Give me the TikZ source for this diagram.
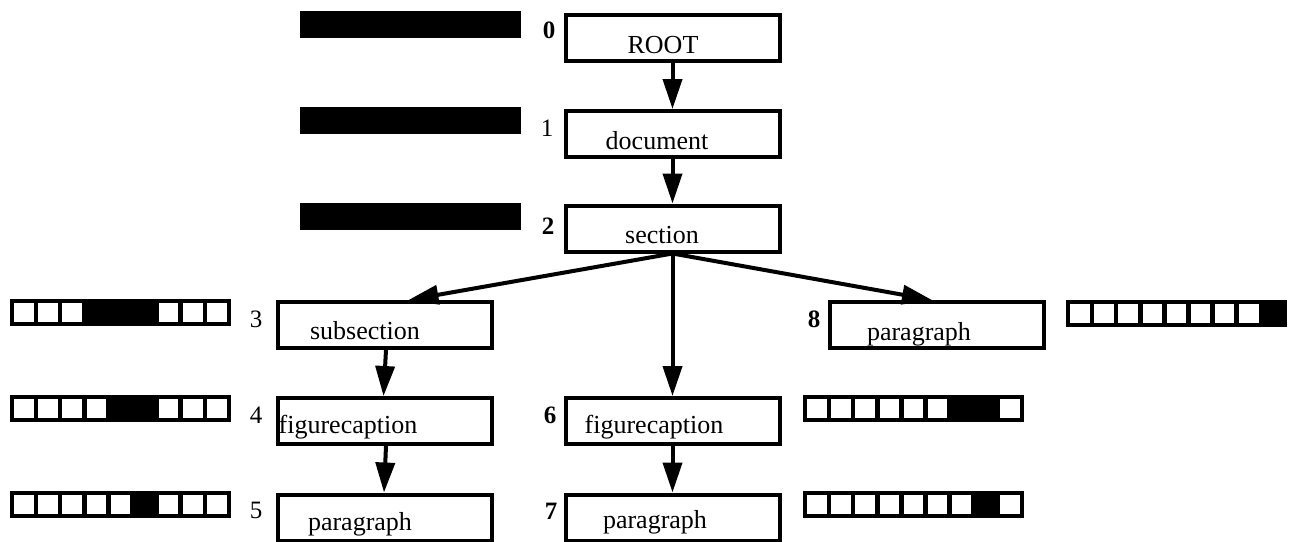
\documentclass[tikz,border=0pt]{standalone}
\usepackage{fontspec}
\setmainfont{Liberation Serif}
\usetikzlibrary{arrows.meta}

\tikzset{
  box/.style={draw, line width=4pt, minimum width=214pt, minimum height=46pt, inner sep=0pt},
  lbl/.style={font=\fontsize{26}{26}\selectfont, anchor=base, inner sep=0pt},
  num/.style={font=\fontsize{25}{25}\selectfont, inner sep=0pt},
  arr/.style={line width=4pt, -{Triangle[length=30pt,width=19pt]}},
  cellbox/.style={draw, line width=4.5pt},
}

% a row of nine bit cells; cells #3..#4 are filled black
\newcommand\bitrow[4]{%
  \foreach \k in {1,...,9}{%
    \ifnum\k<#3 \def\cellcol{white}\else\ifnum\k>#4 \def\cellcol{white}\else\def\cellcol{black}\fi\fi
    \draw[cellbox, fill=\cellcol] ({#1+(\k-1)*24.1},#2) rectangle ++(24.1,23);
  }%
}

\begin{document}
\begin{tikzpicture}[x=1pt, y=-1pt]
  \useasboundingbox (0,0) rectangle (1296,541);

  % tree nodes
  \node[box] (b0) at (672.5,38)    {};
  \node[box] (b1) at (672.5,134)   {};
  \node[box] (b2) at (672.5,228.5) {};
  \node[box] (b3) at (384.5,325)   {};
  \node[box] (b4) at (384.5,421)   {};
  \node[box] (b5) at (384.5,517.5) {};
  \node[box] (b6) at (672.5,421)   {};
  \node[box] (b7) at (672.5,517.5) {};
  \node[box] (b8) at (936.5,325)   {};

  % node texts
  \node[lbl] (t0) at (663,53)  {ROOT};
  \node[lbl] (t1) at (657,149) {document};
  \node[lbl] (t2) at (662,243) {section};
  \node[lbl] (t3) at (365,339) {subsection};
  \node[lbl] (t4) at (348,433) {figurecaption};
  \node[lbl] (t5) at (360,530) {paragraph};
  \node[lbl] (t6) at (654,433) {figurecaption};
  \node[lbl] (t7) at (655,528) {paragraph};
  \node[lbl] (t8) at (919,340) {paragraph};

  % node numbers
  \node[num] (n0) at (549,30)  {\bfseries 0};
  \node[num] (n1) at (547,128) {1};
  \node[num] (n2) at (548,226) {\bfseries 2};
  \node[num] (n3) at (256,319) {3};
  \node[num] (n4) at (256,415) {4};
  \node[num] (n5) at (256,510) {5};
  \node[num] (n6) at (550,415) {\bfseries 6};
  \node[num] (n7) at (551,511) {\bfseries 7};
  \node[num] (n8) at (814,319) {\bfseries 8};

  % edges
  \draw[arr] (b0.south) -- (b1.north);
  \draw[arr] (b1.south) -- (b2.north);
  \draw[arr] (b2.south) -- ([xshift=24pt]b3.north);
  \draw[arr] (b2.south) -- (b6.north);
  \draw[arr] (b2.south) -- ([xshift=-4.5pt]b8.north);
  \draw[arr] ([xshift=1.5pt]b3.south) -- ([xshift=-1pt]b4.north);
  \draw[arr] ([xshift=1.5pt]b4.south) -- ([xshift=-0.5pt]b5.north);
  \draw[arr] (b6.south) -- (b7.north);

  % bit vectors
  \bitrow{302}{13}{1}{9}
  \bitrow{302}{109}{1}{9}
  \bitrow{302}{205}{1}{9}
  \bitrow{12}{301}{4}{6}
  \bitrow{12}{397}{5}{6}
  \bitrow{12}{493}{6}{6}
  \bitrow{1068}{302}{9}{9}
  \bitrow{805}{397}{7}{8}
  \bitrow{805}{493}{8}{8}
\end{tikzpicture}
\end{document}
